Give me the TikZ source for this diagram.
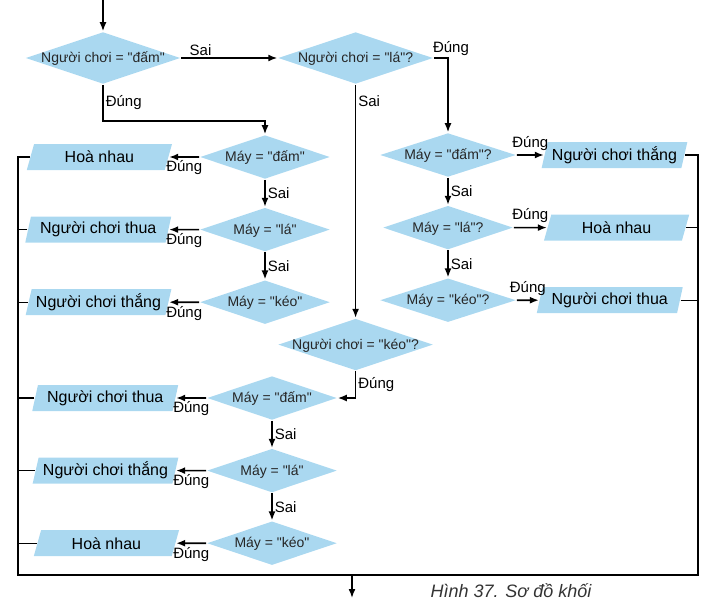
\documentclass[tikz,border=0pt]{standalone}
\usepackage{fontspec}
\setmainfont{Liberation Sans}[Ligatures=TeXOff]
\usetikzlibrary{shapes.geometric, arrows.meta, calc, positioning}
\definecolor{boxblue}{RGB}{170,216,240}

\begin{document}
\begin{tikzpicture}[>={Latex[length=9pt, width=7pt]}, x=1pt, y=-1pt, node distance=27pt, line width=1.6pt,
    cond/.style={diamond, fill=boxblue, aspect=3, inner sep=0pt, text height=9pt, text depth=0pt,
        minimum width=155pt, minimum height=52pt, text=black!85, font=\fontsize{14}{16}\selectfont},
    may/.style={cond, minimum width=130pt, minimum height=44pt},
    result/.style={trapezium, trapezium left angle=72, trapezium right angle=108, trapezium stretches=true,
        fill=boxblue, inner sep=0pt, minimum width=146pt, minimum height=26pt, font=\fontsize{16}{18}\selectfont},
    lbl/.style={inner sep=2pt, font=\fontsize{15}{17}\selectfont}]

\useasboundingbox (0,0) rectangle (710,608);

\node[cond] (dam) at (103,58) {Người chơi = "đấm"};
\node[cond, right=96pt of dam] (la) {Người chơi = "lá"?};
\node[cond, below=233pt of la] (keo) {Người chơi = "kéo"?};

\node[may] (mdam1) at (265,157) {Máy = "đấm"};
\node[may, below=of mdam1] (mla1) {Máy = "lá"};
\node[may, below=of mla1] (mkeo1) {Máy = "kéo"};

\node[may, minimum width=136pt] (mdam2) at (448,155) {Máy = "đấm"?};
\node[may, below=of mdam2] (mla2) {Máy = "lá"?};
\node[may, minimum width=136pt, below=of mla2] (mkeo2) {Máy = "kéo"?};

\node[may] (mdam3) at (272,398) {Máy = "đấm"};
\node[may, below=of mdam3] (mla3) {Máy = "lá"};
\node[may, below=of mla3] (mkeo3) {Máy = "kéo"};

\node[result, left=30pt of mdam1] (hoa1) {Hoà nhau};
\node[result, left=30pt of mla1] (thua1) {Người chơi thua};
\node[result, left=30pt of mkeo1] (thang1) {Người chơi thắng};

\node[result, right=27pt of mdam2] (thang2) {Người chơi thắng};
\node[result, right=33pt of mla2] (hoa2) {Hoà nhau};
\node[result, right=22pt of mkeo2] (thua2) {Người chơi thua};

\node[result, left=30pt of mdam3] (thua3) {Người chơi thua};
\node[result, left=30pt of mla3] (thang3) {Người chơi thắng};
\node[result, left=30pt of mkeo3] (hoa3) {Hoà nhau};

\node[font=\fontsize{18}{20}\selectfont\itshape, text=black!80] (cap) at (511,591) {Hình 37. Sơ đồ khối};

\coordinate (start) at (103,0);
\coordinate (stop) at (352,598);
\coordinate (bl) at (18,575);
\coordinate (br) at (698,575);

\draw[->] (start) -- (dam);
\draw[->] (dam) -- (la) node[pos=0.2, above, lbl] {Sai};
\draw[->] (dam.south) -- ++(0,36) node[midway, right, lbl] {Đúng} -| (mdam1.north);
\draw[->] (la.east) -| (mdam2.north) node[pos=0.5, above, lbl, xshift=3pt] {Đúng};
\draw[->] (la) -- (keo) node[pos=0.07, right, lbl] {Sai};
\draw[->] (keo.south) |- (mdam3.east) node[pos=0.25, right, lbl] {Đúng};

\foreach \a/\b in {mdam1/mla1, mla1/mkeo1, mdam2/mla2, mla2/mkeo2, mdam3/mla3, mla3/mkeo3}
    \draw[->] (\a) -- (\b) node[midway, right, lbl] {Sai};

\foreach \a/\b in {mdam1/hoa1, mla1/thua1, mkeo1/thang1, mdam3/thua3, mla3/thang3, mkeo3/hoa3}
    \draw[->] (\a) -- (\b) node[midway, below, lbl, yshift=-1pt] {Đúng};

\foreach \a/\b in {mdam2/thang2, mla2/hoa2, mkeo2/thua2}
    \draw[->] (\a) -- (\b) node[midway, above, lbl, yshift=2pt] {Đúng};

\draw[line width=1.3pt] (hoa1.west) -| (bl) -- (br) |- (thang2.east);
\foreach \n in {thua1, thang1, thua3, thang3, hoa3}
    \draw[line width=1.3pt] (\n.west) -- (\n.west -| bl);
\foreach \n in {hoa2, thua2}
    \draw[line width=1.3pt] (\n.east) -- (\n.east -| br);
\draw[->] (stop |- bl) -- (stop);

\end{tikzpicture}
\end{document}
